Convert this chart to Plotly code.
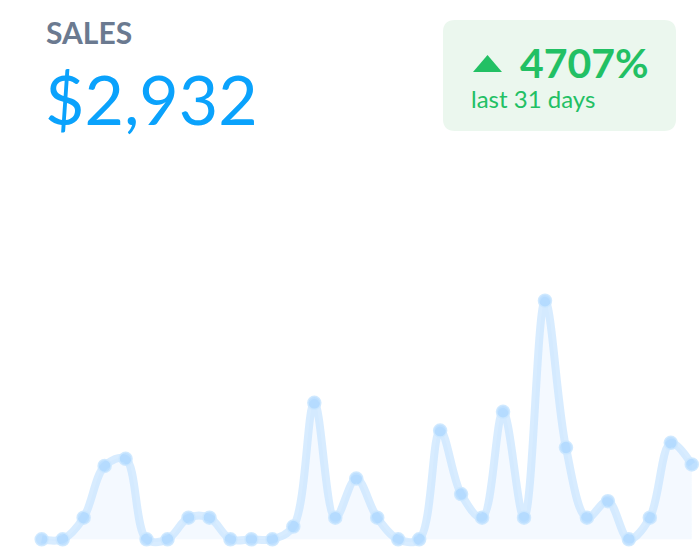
import plotly.graph_objects as go

# daily sales, last 31 days (+ previous day)
days = list(range(32))
sales = [0, 0, 46, 156, 171, 0, 0, 46, 46, 0, 0, 0, 27, 290, 46, 129,
         46, 0, 0, 231, 96, 46, 271, 46, 507, 195, 46, 81, 0, 46, 205, 159]

title_text = "SALES"
total_text = "$2,932"
change_text = "4707%"
period_text = "last 31 days"

W, H = 700, 554


def px(x):
    return x / W


def py(y):
    return 1 - y / H


fig = go.Figure()

fig.add_trace(
    go.Scatter(
        x=days,
        y=sales,
        mode="lines+markers",
        line=dict(shape="spline", smoothing=1, color="rgba(190,224,255,0.6)", width=8),
        marker=dict(size=13, color="rgba(170,214,255,0.75)",
                    line=dict(color="rgba(205,232,255,0.9)", width=1.5)),
        fill="tozeroy",
        fillcolor="rgba(240,247,255,0.7)",
        hoverinfo="skip",
        cliponaxis=False,
    )
)

# rounded green badge
x0, x1, y0, y1 = px(443), px(676), py(131), py(20)
rx, ry = 12 / W, 12 / H
badge = (
    f"M {x0 + rx},{y0} L {x1 - rx},{y0} Q {x1},{y0} {x1},{y0 + ry} "
    f"L {x1},{y1 - ry} Q {x1},{y1} {x1 - rx},{y1} "
    f"L {x0 + rx},{y1} Q {x0},{y1} {x0},{y1 - ry} "
    f"L {x0},{y0 + ry} Q {x0},{y0} {x0 + rx},{y0} Z"
)
fig.add_shape(type="path", path=badge, xref="paper", yref="paper",
              fillcolor="#ebf7ee", line=dict(width=0), layer="below")

# up arrow
arrow = f"M {px(473)},{py(72)} L {px(502)},{py(72)} L {px(487.5)},{py(55)} Z"
fig.add_shape(type="path", path=arrow, xref="paper", yref="paper",
              fillcolor="#22c064", line=dict(width=0))

fig.add_annotation(text=f"<b>{title_text}</b>", x=px(44), y=py(32),
                   font=dict(family="Lato", size=30, color="#6b7a90"))
fig.add_annotation(text=total_text, x=px(43), y=py(99),
                   font=dict(family="Lato", size=68, color="#0aa2fc"))
fig.add_annotation(text=f"<b>{change_text}</b>", x=px(518), y=py(62),
                   font=dict(family="Lato", size=41, color="#22c064"))
fig.add_annotation(text=period_text, x=px(469), y=py(99),
                   font=dict(family="Lato", size=24, color="#22c064"))
fig.update_annotations(xref="paper", yref="paper", xanchor="left",
                       yanchor="middle", showarrow=False)

# axis ranges chosen so the data area sits under the header
x_step = 20.97
y_scale = 507 / 238.6
fig.update_layout(
    width=W,
    height=H,
    margin=dict(l=0, r=0, t=0, b=0),
    paper_bgcolor="white",
    plot_bgcolor="white",
    showlegend=False,
    xaxis=dict(visible=False, range=[-41.7 / x_step, (W - 41.7) / x_step]),
    yaxis=dict(visible=False, range=[-(H - 539.3) * y_scale, 539.3 * y_scale]),
)

fig.write_html("out.html", config={"displayModeBar": False},
               post_script="document.body.style.margin='0';")
